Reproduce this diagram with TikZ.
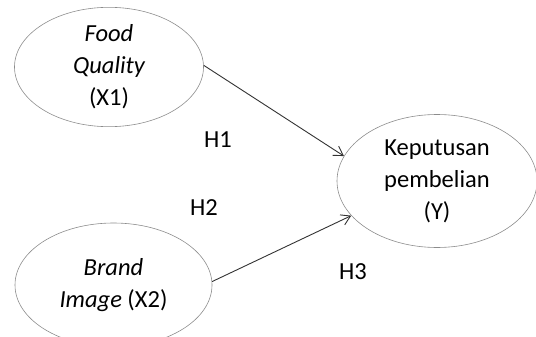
\documentclass[tikz,border=0pt]{standalone}
\usepackage{fontspec}
\setmainfont{Carlito}
\usetikzlibrary{shapes.geometric,arrows.meta}
\begin{document}
\begin{tikzpicture}[x=1pt,y=-1pt,
  latent/.style={ellipse,draw=black!45,line width=0.6pt,inner sep=0pt,align=center,
    font=\fontsize{24.5}{32}\selectfont},
  path/.style={draw=black!80,line width=0.9pt,-{Straight Barb[length=9pt,width=11pt,line width=0.9pt]}},
  hlabel/.style={font=\fontsize{24.5}{32}\selectfont}]
\useasboundingbox (0,0) rectangle (536,337);
\clip (0,0) rectangle (536,337);
\node[latent,minimum width=189pt,minimum height=119pt] (e1) at (109,67) {\itshape Food\\\itshape Quality\\(X1)};
\node[latent,minimum width=197pt,minimum height=124pt] (e2) at (113.5,285) {\itshape Brand\\{\itshape Image} (X2)};
\node[latent,minimum width=200pt,minimum height=133pt] (e3) at (437,181) {Keputusan\\pembelian\\(Y)};
\node[hlabel] (h1) at (218,140) {H1};
\node[hlabel] (h2) at (204,208) {H2};
\node[hlabel] (h3) at (353,272) {H3};
\draw[path] (e1.1) -- (e3.165);
\draw[path] (e2.2) -- (e3.202);
\end{tikzpicture}
\end{document}
